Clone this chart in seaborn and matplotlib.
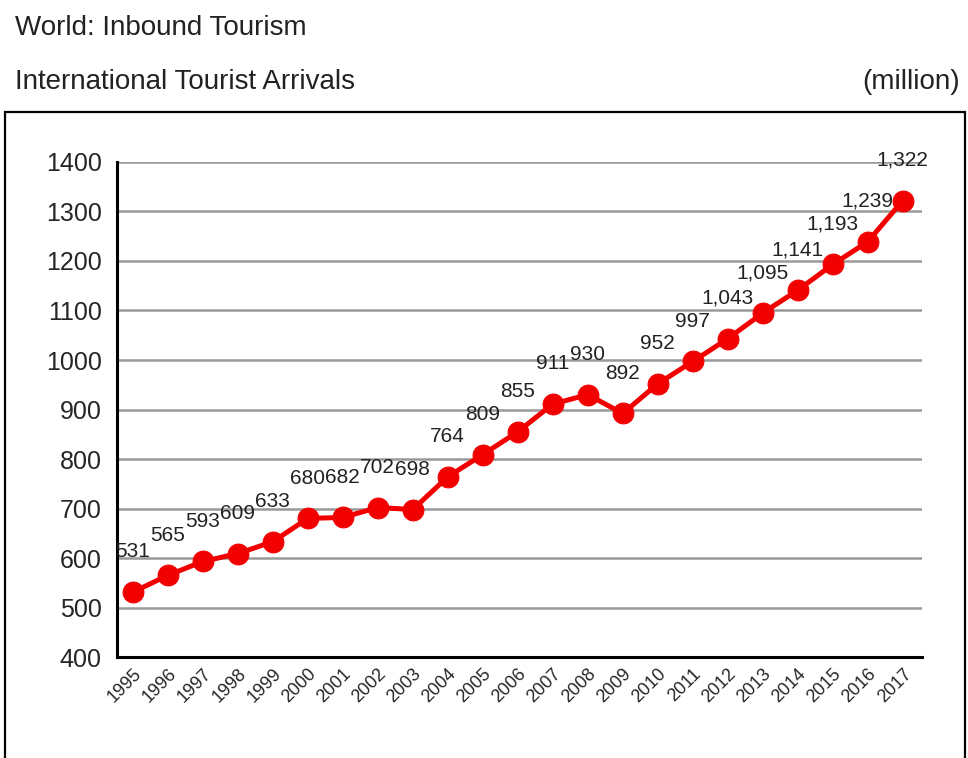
import numpy as np
import pandas as pd
import matplotlib
matplotlib.use('Agg')
import matplotlib.pyplot as plt
from matplotlib.patches import Rectangle
import seaborn as sns

# data
years = [str(y) for y in range(1995, 2018)]
arrivals = [531, 565, 593, 609, 633, 680, 682, 702, 698, 764, 809, 855,
            911, 930, 892, 952, 997, 1043, 1095, 1141, 1193, 1239, 1322]
y_ticks = [400, 500, 600, 700, 800, 900, 1000, 1100, 1200, 1300, 1400]

sns.set_style('white')
plt.rcParams['font.family'] = ['Liberation Sans', 'DejaVu Sans']

df = pd.DataFrame({'pos': np.arange(len(years)), 'arrivals': arrivals})

fig = plt.figure(figsize=(9.68, 7.58), dpi=100)
ax = fig.add_axes([0.1209, 0.1332, 0.8316, 0.6531])

# horizontal grid lines
for v in y_ticks[1:]:
    ax.axhline(v, color='#999999', lw=1.8, zorder=1)

sns.lineplot(data=df, x='pos', y='arrivals', ax=ax, color='#f20000', lw=3.6,
             marker='o', markersize=15, markeredgecolor='#f20000', zorder=3)

# value labels above each point
for i, v in enumerate(arrivals):
    txt = f'{v:,}'
    ax.annotate(txt, (i, v), xytext=(0, 29), textcoords='offset points',
                ha='center', va='center', fontsize=15, color='#222222',
                clip_on=False, zorder=4)

ax.set_xlim(-0.45, 22.55)
ax.set_ylim(400, 1400)
ax.set_yticks(y_ticks)
ax.set_yticklabels([str(v) for v in y_ticks], fontsize=18)

# tick marks at category boundaries, labels at the points
ax.set_xticks(np.arange(len(years) + 1) - 0.45)
ax.set_xticklabels([])
ax.set_xticks(np.arange(len(years)), minor=True)
ax.set_xticklabels(years, minor=True, rotation=45, ha='right', va='top',
                   rotation_mode='anchor', fontsize=13)
ax.tick_params(axis='x', which='minor', length=0, pad=6)
ax.tick_params(axis='x', which='major', length=5, width=1.5, color='black', direction='out')
ax.tick_params(axis='y', length=5, width=1.5, color='black', direction='out', pad=6)

ax.set_xlabel('')
ax.set_ylabel('')
sns.despine(ax=ax)
for s in ['left', 'bottom']:
    ax.spines[s].set_color('black')
    ax.spines[s].set_linewidth(2.2)

# titles
fig.text(15 / 968, 1 - 28 / 758, 'World: Inbound Tourism', fontsize=20,
         ha='left', va='center', color='#222222')
fig.text(15 / 968, 1 - 82 / 758, 'International Tourist Arrivals', fontsize=20,
         ha='left', va='center', color='#222222')
fig.text(960 / 968, 1 - 82 / 758, '(million)', fontsize=20,
         ha='right', va='center', color='#222222')

# outer frame around the chart
fig.patches.append(Rectangle((5 / 968, -0.01), 960 / 968, 1 - 112 / 758 + 0.01,
                             transform=fig.transFigure, fill=False,
                             edgecolor='black', lw=1.6, zorder=0))

fig.savefig('out.png', dpi=100)
plt.close()
